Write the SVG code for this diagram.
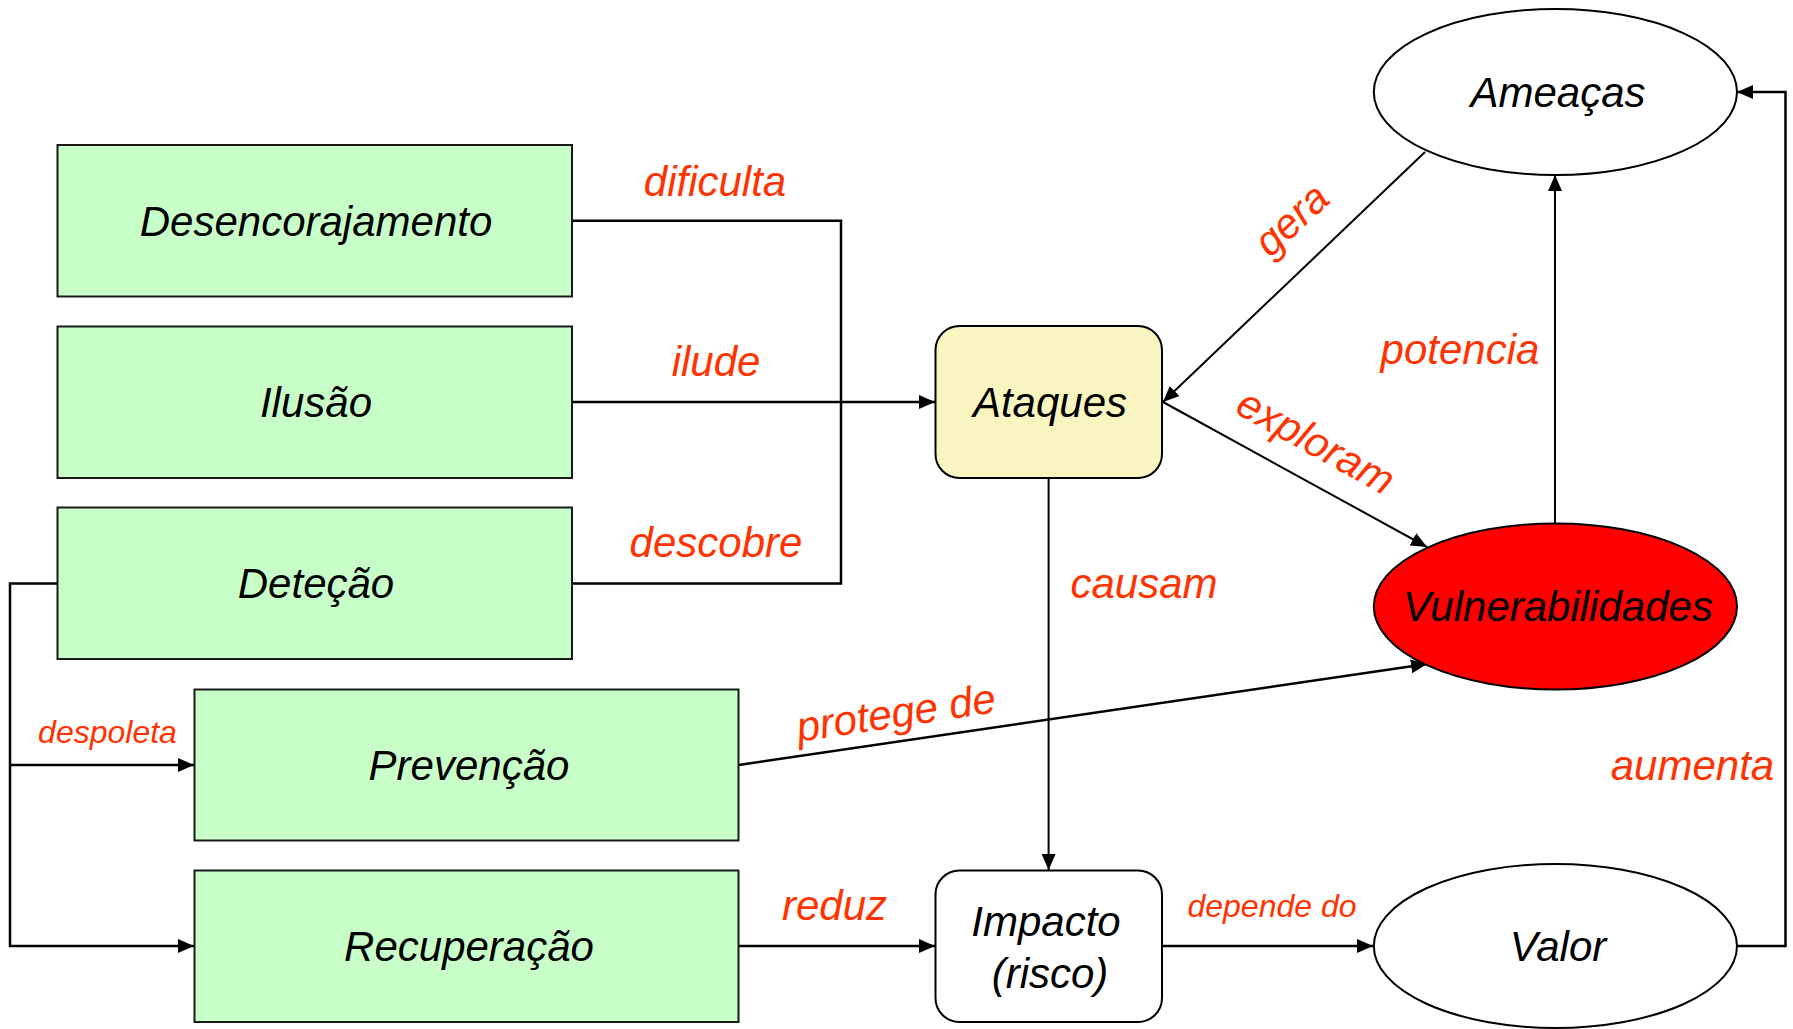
<svg xmlns="http://www.w3.org/2000/svg" width="1793" height="1029" viewBox="0 0 1793 1029">
<style>
.box{fill:#C8FFC8;stroke:#1a1a1a;stroke-width:2}
.rbox{stroke:#000;stroke-width:2}
.ell{stroke:#000;stroke-width:2}
.nt{font-family:"Liberation Sans",Arial,sans-serif;font-style:italic;font-size:42px;fill:#000;text-anchor:middle}
.lb{font-family:"Liberation Sans",Arial,sans-serif;font-style:italic;font-size:42px;fill:#FF3300;text-anchor:middle}
.sm{font-size:32px}
.ln{fill:none;stroke:#000;stroke-width:2.5}
.thin{stroke-width:2}
</style>
<defs>
<marker id="ah" markerUnits="userSpaceOnUse" markerWidth="18" markerHeight="16" refX="16" refY="7" orient="auto">
<path d="M0,0 L16,7 L0,14 Z" fill="#000"/>
</marker>
</defs>
<rect width="1793" height="1029" fill="#fff"/>
<g id="connectors">
<polyline class="ln" points="572,220.7 841,220.7 841,583.6 572,583.6"/>
<line class="ln" x1="572" y1="402" x2="935" y2="402" marker-end="url(#ah)"/>
<polyline class="ln" points="58,583.6 10,583.6 10,946 194,946" marker-end="url(#ah)"/>
<line class="ln" x1="10" y1="765" x2="194" y2="765" marker-end="url(#ah)"/>
<line class="ln thin" x1="1425" y1="152" x2="1163" y2="402" marker-end="url(#ah)"/>
<line class="ln thin" x1="1163" y1="402" x2="1427" y2="547" marker-end="url(#ah)"/>
<line class="ln thin" x1="1555" y1="523" x2="1555" y2="175" marker-end="url(#ah)"/>
<line class="ln thin" x1="1048.6" y1="478" x2="1048.6" y2="870" marker-end="url(#ah)"/>
<line class="ln" x1="738.7" y1="765" x2="1427" y2="664" marker-end="url(#ah)"/>
<line class="ln" x1="738.7" y1="946" x2="935" y2="946" marker-end="url(#ah)"/>
<line class="ln" x1="1162" y1="946" x2="1373" y2="946" marker-end="url(#ah)"/>
<polyline class="ln" points="1737,946 1785.5,946 1785.5,92 1737,92" marker-end="url(#ah)"/>
</g>
<g id="labels">
<text class="lb" x="715" y="196">dificulta</text>
<text class="lb" x="716" y="376">ilude</text>
<text class="lb" x="716" y="557">descobre</text>
<text class="lb sm" x="107.5" y="743">despoleta</text>
<text class="lb" transform="translate(898,727) rotate(-8.5)" x="0" y="0">protege de</text>
<text class="lb" x="834.5" y="920">reduz</text>
<text class="lb" x="1144" y="598">causam</text>
<text class="lb sm" x="1272" y="917">depende do</text>
<text class="lb" x="1692.5" y="780">aumenta</text>
<text class="lb" x="1460" y="364">potencia</text>
<text class="lb" transform="translate(1301,230) rotate(-43)" x="0" y="0">gera</text>
<text class="lb" transform="translate(1309,454) rotate(29)" x="0" y="0">exploram</text>
</g>
<g id="desencorajamento">
<rect class="box" x="57.5" y="145" width="514.5" height="151.5"/>
<text class="nt" x="316" y="236">Desencorajamento</text>
</g>
<g id="ilusao">
<rect class="box" x="57.5" y="326.5" width="514.5" height="151.5"/>
<text class="nt" x="316" y="417">Ilusão</text>
</g>
<g id="detecao">
<rect class="box" x="57.5" y="507.5" width="514.5" height="151.5"/>
<text class="nt" x="316" y="598">Deteção</text>
</g>
<g id="prevencao">
<rect class="box" x="194.5" y="689.5" width="544" height="151"/>
<text class="nt" x="469" y="780">Prevenção</text>
</g>
<g id="recuperacao">
<rect class="box" x="194.5" y="870.5" width="544" height="151.5"/>
<text class="nt" x="469" y="961">Recuperação</text>
</g>
<g id="ataques">
<rect class="rbox" x="935.5" y="326" width="226.5" height="152" rx="24" ry="24" fill="#F8F5C0"/>
<text class="nt" x="1050" y="417">Ataques</text>
</g>
<g id="impacto">
<rect class="rbox" x="935.5" y="870.5" width="226.5" height="151.5" rx="24" ry="24" fill="#fff"/>
<text class="nt" x="1046" y="936">Impacto</text>
<text class="nt" x="1050" y="988">(risco)</text>
</g>
<g id="ameacas">
<ellipse class="ell" cx="1555.4" cy="92" rx="181.6" ry="83" fill="#fff"/>
<text class="nt" x="1558" y="107">Ameaças</text>
</g>
<g id="vulnerabilidades">
<ellipse class="ell" cx="1555.4" cy="606.5" rx="181.6" ry="83" fill="#FF0000"/>
<text class="nt" x="1558" y="621">Vulnerabilidades</text>
</g>
<g id="valor">
<ellipse class="ell" cx="1555.4" cy="946" rx="181.6" ry="82" fill="#fff"/>
<text class="nt" x="1558" y="961">Valor</text>
</g>
</svg>
